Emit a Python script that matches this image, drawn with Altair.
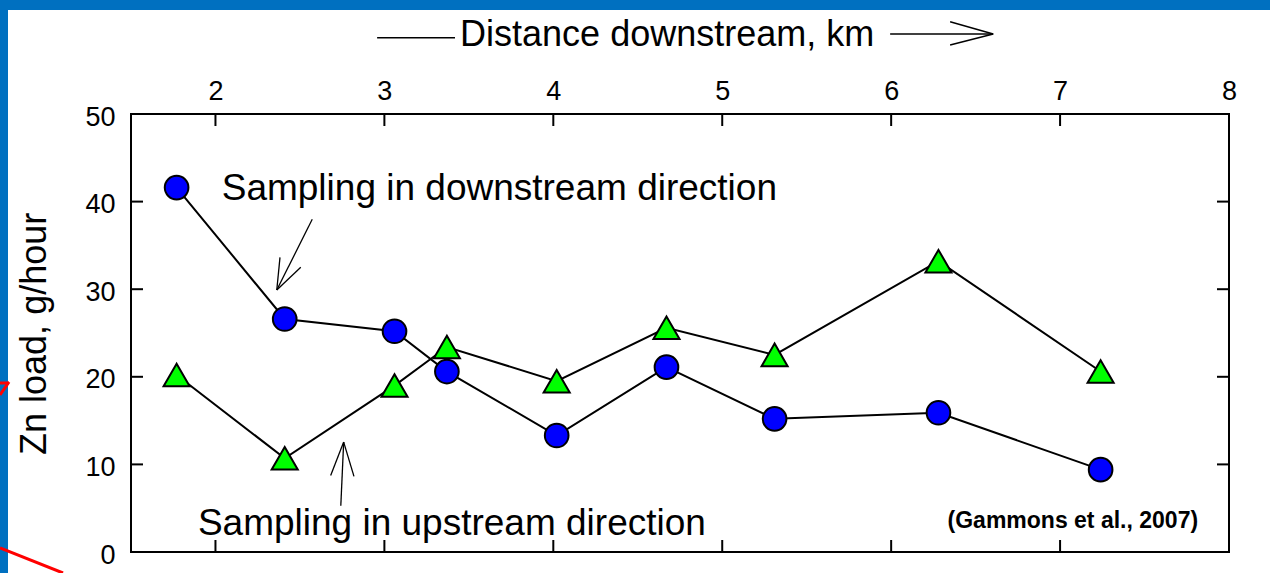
import altair as alt
import pandas as pd

# Station distances (km) and zinc loads (g/hour) for the two sampling runs
distance_km = [1.77, 2.41, 3.06, 3.37, 4.02, 4.67, 5.31, 6.28, 7.24]
zn_downstream = [41.6, 26.6, 25.2, 20.6, 13.3, 21.1, 15.2, 15.9, 9.4]
zn_upstream = [20.2, 10.7, 19.0, 23.4, 19.5, 25.6, 22.5, 33.2, 20.6]

x_ticks = [2, 3, 4, 5, 6, 7, 8]
y_ticks = [0, 10, 20, 30, 40, 50]
x_inner_ticks = [2, 3, 4, 5, 6, 7]
y_inner_ticks = [10, 20, 30, 40]

FONT = "Liberation Sans, Arial, Helvetica, sans-serif"
W, H = 1098, 438
BLUE_FRAME = "#0070C0"

x_scale = alt.Scale(domain=[1.5, 8], nice=False, zero=False)
y_scale = alt.Scale(domain=[0, 50], nice=False, zero=False)

x_axis = alt.Axis(orient="top", values=x_ticks, ticks=False, domain=False, grid=False,
                  labelFontSize=27, labelFont=FONT, labelColor="black",
                  labelPadding=9, labelFlush=False, title=None)
y_axis = alt.Axis(orient="left", values=y_ticks, ticks=False, domain=False, grid=False,
                  labelFontSize=27, labelFont=FONT, labelColor="black",
                  labelPadding=16, labelOffset=3, labelFlush=False, title=None)


def X(field):
    return alt.X(f"{field}:Q", scale=x_scale, axis=x_axis)


def Y(field):
    return alt.Y(f"{field}:Q", scale=y_scale, axis=y_axis)


down = pd.DataFrame({"km": distance_km, "zn": zn_downstream})
up = pd.DataFrame({"km": distance_km, "zn": zn_upstream})

down_line = alt.Chart(down).mark_line(color="black", strokeWidth=2).encode(x=X("km"), y=Y("zn"))
up_line = alt.Chart(up).mark_line(color="black", strokeWidth=2).encode(x=X("km"), y=Y("zn"))
down_pts = alt.Chart(down).mark_point(
    shape="circle", size=560, filled=True, fill="#0000FF", stroke="black",
    strokeWidth=2, opacity=1).encode(x=X("km"), y=Y("zn"))
up_pts = alt.Chart(up).mark_point(
    shape="triangle-up", size=680, filled=True, fill="#00FF00", stroke="black",
    strokeWidth=2, opacity=1).encode(x=X("km"), y=Y("zn"))

# Inward tick marks on all four sides of the frame
tx = pd.DataFrame({"km": x_inner_ticks})
ty = pd.DataFrame({"zn": y_inner_ticks})
tick_top = alt.Chart(tx).mark_rule(color="black", strokeWidth=2).encode(
    x=X("km"), y=alt.value(0), y2=alt.value(12))
tick_bottom = alt.Chart(tx).mark_rule(color="black", strokeWidth=2).encode(
    x=X("km"), y=alt.value(H), y2=alt.value(H - 12))
tick_left = alt.Chart(ty).mark_rule(color="black", strokeWidth=2).encode(
    y=Y("zn"), x=alt.value(0), x2=alt.value(12))
tick_right = alt.Chart(ty).mark_rule(color="black", strokeWidth=2).encode(
    y=Y("zn"), x=alt.value(W), x2=alt.value(W - 12))

# Annotation arrows, in data units (shaft + open arrowhead strokes)
seg_x = [2.573, 2.363, 2.363, 2.742, 2.759, 2.759]
seg_y = [37.98, 29.91, 29.91, 5.29, 12.55, 12.55]
seg_x2 = [2.363, 2.382, 2.505, 2.759, 2.682, 2.820]
seg_y2 = [29.91, 33.64, 32.50, 12.55, 8.74, 8.63]
segs = pd.DataFrame({"x": seg_x, "y": seg_y, "x2": seg_x2, "y2": seg_y2})
arrows = alt.Chart(segs).mark_rule(color="black", strokeWidth=1.3).encode(
    x=X("x"), y=Y("y"), x2="x2:Q", y2="y2:Q")

# Lines flanking the distance title, with an open arrowhead on the right
title_x = [2.957, 5.994, 6.604, 6.604]
title_y = [58.71, 59.13, 59.13, 59.13]
title_x2 = [3.418, 6.604, 6.349, 6.349]
title_y2 = [58.71, 59.13, 60.54, 57.88]
tsegs = pd.DataFrame({"x": title_x, "y": title_y, "x2": title_x2, "y2": title_y2})
title_arrows = alt.Chart(tsegs).mark_rule(color="black", strokeWidth=1.5).encode(
    x=X("x"), y=Y("y"), x2="x2:Q", y2="y2:Q")

notes = pd.DataFrame({
    "x": [2.037, 1.896],
    "y": [40.18, 1.94],
    "t": ["Sampling in downstream direction", "Sampling in upstream direction"],
})
note_text = alt.Chart(notes).mark_text(
    fontSize=37, font=FONT, align="left", baseline="alphabetic", color="black"
).encode(x=X("x"), y=Y("y"), text="t:N")

xtitle = pd.DataFrame({"x": [3.448], "y": [57.76], "t": ["Distance downstream, km"]})
xtitle_text = alt.Chart(xtitle).mark_text(
    fontSize=36, font=FONT, align="left", baseline="alphabetic", color="black"
).encode(x=X("x"), y=Y("y"), text="t:N")

cite = pd.DataFrame({"x": [7.817], "y": [2.74], "t": ["(Gammons et al., 2007)"]})
cite_text = alt.Chart(cite).mark_text(
    fontSize=23, font=FONT, fontWeight="bold", align="right", baseline="alphabetic",
    color="black").encode(x=X("x"), y=Y("y"), text="t:N")

ytitle = pd.DataFrame({"x": [0.997], "y": [24.9], "t": ["Zn load, g/hour"]})
ytitle_text = alt.Chart(ytitle).mark_text(
    fontSize=36, font=FONT, align="center", baseline="alphabetic", angle=270,
    color="black").encode(x=X("x"), y=Y("y"), text="t:N")

# Slide decorations: blue frame bars and the red pointer fragments
one = pd.DataFrame({"k": [0]})


def px_rule(x, x2, y, y2, color, width):
    return alt.Chart(one).mark_rule(color=color, strokeWidth=width).encode(
        x=alt.value(x), x2=alt.value(x2), y=alt.value(y), y2=alt.value(y2))


frame_top = px_rule(-131, 1139, -109, -109, BLUE_FRAME, 10)
frame_left = px_rule(-127, -127, -114, 459, BLUE_FRAME, 8)
red_line = px_rule(-131, -68, 434, 459, "#FF0000", 3)
red_tip_a = px_rule(-131, -122, 269, 269, "#FF0000", 3)
red_tip_b = px_rule(-122, -131, 268, 281, "#FF0000", 3)

chart = alt.layer(
    tick_top, tick_bottom, tick_left, tick_right,
    down_line, up_line, down_pts, up_pts,
    arrows, title_arrows, note_text, xtitle_text, cite_text, ytitle_text,
    frame_left, frame_top, red_line, red_tip_a, red_tip_b,
).properties(
    width=W, height=H,
    autosize=alt.AutoSizeParams(type="none"),
    padding={"left": 131, "top": 114, "right": 41, "bottom": 21},
    background="white",
).configure_view(
    stroke="black", strokeWidth=2, fill="white"
)

chart.save("out.html", embed_options={"renderer": "svg", "actions": False})
